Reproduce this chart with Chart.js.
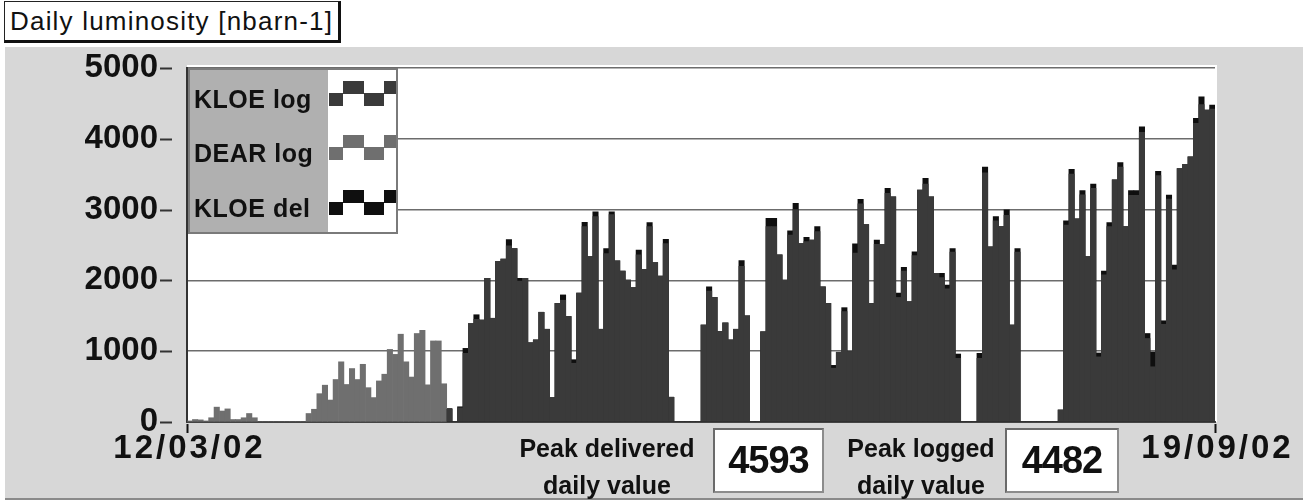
<!DOCTYPE html>
<html>
<head>
<meta charset="utf-8">
<script src="https://cdn.jsdelivr.net/npm/chart.js@4.4.1/dist/chart.umd.min.js"></script>
<style>
  html, body { margin: 0; padding: 0; background: #fff; }
  #wrap { position: relative; width: 1303px; height: 501px; overflow: hidden;
          font-family: "Liberation Sans", Arial, Helvetica, sans-serif; color: #111; }
  #panel { position: absolute; left: 5px; top: 47px; width: 1298px; height: 451px;
           background: #d7d7d7; border-bottom: 2px solid #8a8a8a; }
  #title { position: absolute; left: 4px; top: 1px; width: 337px; height: 42px; box-sizing: border-box;
           background: #fff; border: 1px solid #222; border-right: 3px solid #111; border-bottom: 3px solid #111;
           font-size: 26px; letter-spacing: 1.2px; line-height: 38px; padding-left: 5px; white-space: nowrap; }
  #chart { position: absolute; left: 0; top: 0; }
  .lbl { position: absolute; width: 230px; text-align: center; font-size: 25px; font-weight: bold;
         line-height: 37px; white-space: nowrap; }
  .val { position: absolute; box-sizing: border-box; background: #fff; border: 2px solid #8c8c8c;
         border-top-color: #6a6a6a; border-left-color: #6a6a6a;
         font-weight: bold; font-size: 38px; letter-spacing: -1px; line-height: 60px; text-align: center; }
</style>
</head>
<body>
<div id="wrap">
  <div id="panel"></div>
  <div id="title">Daily luminosity [nbarn-1]</div>
  <canvas id="chart" width="1303" height="501"></canvas>
  <div class="lbl" style="left:492px; top:430px;">Peak delivered<br>daily value</div>
  <div class="val" id="peakDel" style="left:713px; top:428px; width:111px; height:65px;"></div>
  <div class="lbl" style="left:806px; top:430px;">Peak logged<br>daily value</div>
  <div class="val" id="peakLog" style="left:1005px; top:428px; width:114px; height:65px;"></div>
</div>
<script>
// Daily integrated luminosity, one bar per day (nbarn^-1)
const dayCount = 190;
const xTickLabels = ['12/03/02', '19/09/02'];
const yTicks = [0, 1000, 2000, 3000, 4000, 5000];

const seriesNames = ['KLOE log', 'DEAR log', 'KLOE del'];
const seriesColors = ['#3a3a3a', '#6f6f6f', '#0f0f0f'];

// DEAR logged luminosity, days 0..47
const dearFirstDay = 0;
const dearLog = [
  15, 35, 30, 15, 60, 210, 155, 185, 35, 35,
  60, 120, 60, 0, 0, 0, 0, 0, 0, 0,
  0, 0, 120, 180, 400, 520, 310, 600, 850, 530,
  755, 600, 815, 485, 345, 580, 675, 1025, 955, 1240,
  850, 635, 1250, 1295, 525, 1145, 1145, 540
];

// KLOE logged luminosity, days 48..189
const kloeFirstDay = 48;
const kloeLog = [
  180, 0, 200, 970, 1390, 1450, 1440, 2030, 1465, 2270,
  2300, 2490, 2450, 1990, 2030, 1120, 1160, 1550, 1310, 345,
  1675, 1720, 1490, 830, 1820, 2760, 2335, 2900, 1310, 2380,
  2930, 2275, 2130, 2005, 1900, 2360, 2155, 2760, 2250, 2060,
  2520, 350, 0, 0, 0, 0, 0, 1370, 1850, 1760,
  1280, 1400, 1160, 1310, 2200, 1500, 0, 0, 1275, 2760,
  2760, 2360, 2005, 2640, 3000, 2520, 2550, 2570, 2690, 1910,
  1675, 760, 985, 1560, 995, 2385, 3080, 2790, 1675, 2510,
  2510, 3230, 3180, 1760, 2130, 1700, 2350, 3275, 3360, 3180,
  2100, 2040, 1880, 2400, 900, 0, 0, 0, 900, 3520,
  2475, 2840, 2760, 2920, 1370, 2400, 0, 0, 0, 0,
  0, 0, 0, 170, 2780, 3500, 2870, 3210, 2335, 3300,
  920, 2080, 2760, 3420, 3600, 2760, 3200, 3200, 4090, 1180,
  780, 3480, 1380, 3150, 2150, 3580, 3640, 3745, 4220, 4482,
  4405, 4420
];

// KLOE delivered luminosity, days 48..189
const kloeDel = [
  190, 0, 215, 1040, 1390, 1515, 1440, 2030, 1465, 2270,
  2300, 2575, 2450, 2030, 2030, 1120, 1160, 1550, 1310, 345,
  1675, 1795, 1490, 880, 1820, 2820, 2335, 2970, 1310, 2450,
  2970, 2275, 2130, 2005, 1900, 2430, 2155, 2815, 2250, 2060,
  2580, 350, 0, 0, 0, 0, 0, 1370, 1910, 1760,
  1280, 1400, 1160, 1310, 2280, 1500, 0, 0, 1275, 2875,
  2875, 2360, 2005, 2700, 3090, 2520, 2610, 2570, 2760, 1910,
  1675, 800, 985, 1615, 995, 2515, 3145, 2790, 1675, 2570,
  2510, 3300, 3180, 1820, 2185, 1700, 2405, 3275, 3440, 3180,
  2100, 2100, 1935, 2450, 960, 0, 0, 0, 970, 3600,
  2475, 2900, 2760, 2995, 1370, 2450, 0, 0, 0, 0,
  0, 0, 0, 170, 2840, 3570, 2870, 3270, 2335, 3360,
  975, 2130, 2815, 3420, 3665, 2760, 3270, 3270, 4170, 1250,
  990, 3540, 1430, 3205, 2215, 3580, 3640, 3745, 4290, 4593,
  4405, 4475
];

document.getElementById('peakDel').textContent = Math.max(...kloeDel);
document.getElementById('peakLog').textContent = Math.max(...kloeLog);

const FONT = '"Liberation Sans", Arial, Helvetica, sans-serif';
const toPoints = (vals, first) => vals.map((v, i) => ({ x: first + i, y: v }));

// white plotting field
const plotField = {
  id: 'plotField',
  beforeDraw(chart) {
    const { ctx, chartArea: a } = chart;
    ctx.save();
    ctx.fillStyle = '#ffffff';
    ctx.fillRect(a.left, a.top - 3, a.right - a.left + 2, a.bottom - a.top + 3);
    ctx.restore();
  }
};

// short dashes beside each value label on the left axis
const valueDashes = {
  id: 'valueDashes',
  afterDraw(chart) {
    const { ctx, scales: { y } } = chart;
    ctx.save();
    ctx.strokeStyle = '#333';
    ctx.lineWidth = 2;
    y.ticks.forEach(t => {
      const py = Math.round(y.getPixelForValue(t.value)) + 0.5;
      ctx.beginPath();
      ctx.moveTo(y.right - 27, py);
      ctx.lineTo(y.right - 15, py);
      ctx.stroke();
    });
    ctx.restore();
  }
};

// end-of-range date marks and labels under the time axis
const dateMarks = {
  id: 'dateMarks',
  afterDraw(chart) {
    const { ctx, scales: { x } } = chart;
    ctx.save();
    ctx.strokeStyle = '#111';
    ctx.lineWidth = 2;
    ctx.fillStyle = '#111';
    ctx.font = 'bold 33px ' + FONT;
    ctx.letterSpacing = '3px';
    ctx.textAlign = 'center';
    ctx.textBaseline = 'alphabetic';
    x.ticks.forEach((t, i) => {
      const px = Math.round(x.getPixelForValue(t.value)) + 0.5;
      ctx.beginPath();
      ctx.moveTo(px, x.top + 2);
      ctx.lineTo(px, x.top + 11);
      ctx.stroke();
      ctx.fillText(xTickLabels[i], px + 2, x.top + 36);
    });
    ctx.restore();
  }
};

// legend panel with square-wave swatches
const waveLegend = {
  id: 'waveLegend',
  afterDraw(chart) {
    const { ctx, chartArea: a } = chart;
    const x0 = a.left + 2, y0 = a.top + 1;
    const labelW = 138, swatchW = 68, h = 164;
    ctx.save();
    ctx.fillStyle = '#b0b0b0';
    ctx.fillRect(x0 + 1, y0 + 1, labelW, h - 2);
    ctx.fillStyle = '#ffffff';
    ctx.fillRect(x0 + 1 + labelW, y0 + 1, swatchW, h - 2);
    ctx.strokeStyle = '#7a7a7a';
    ctx.lineWidth = 2;
    ctx.strokeRect(x0, y0, labelW + swatchW + 2, h);
    ctx.font = 'bold 25px ' + FONT;
    ctx.letterSpacing = '0.5px';
    ctx.textBaseline = 'alphabetic';
    ctx.textAlign = 'left';
    const baselines = [39, 93, 148];
    chart.data.datasets.forEach((ds, i) => {
      const base = y0 + baselines[i];
      ctx.fillStyle = '#111';
      ctx.fillText(ds.label, x0 + 5, base);
      const sx = x0 + 1 + labelW;
      const cy = base - 15;
      const segs = [[1, 15, 0], [15, 36, 1], [36, 56, 0], [56, 68, 1]];
      ctx.fillStyle = ds.backgroundColor;
      segs.forEach(([s, e, hi]) => {
        ctx.fillRect(sx + s, hi ? cy - 12 : cy, e - s, 13);
      });
    });
    ctx.restore();
  }
};

new Chart(document.getElementById('chart'), {
  type: 'bar',
  data: {
    datasets: [
      { label: seriesNames[0], data: toPoints(kloeLog, kloeFirstDay), backgroundColor: seriesColors[0] },
      { label: seriesNames[1], data: toPoints(dearLog, dearFirstDay), backgroundColor: seriesColors[1] },
      { label: seriesNames[2], data: toPoints(kloeDel, kloeFirstDay), backgroundColor: seriesColors[2] }
    ]
  },
  options: {
    responsive: false,
    animation: false,
    layout: { padding: { left: 0, right: 88, top: 68, bottom: 0 } },
    datasets: { bar: { grouped: false, barPercentage: 1, categoryPercentage: 1, borderWidth: 0 } },
    plugins: { legend: { display: false }, tooltip: { enabled: false }, title: { display: false } },
    scales: {
      x: {
        type: 'linear',
        min: -0.5,
        max: dayCount - 0.5,
        offset: false,
        afterBuildTicks: s => { s.ticks = [{ value: -0.5 }, { value: dayCount - 0.5 }]; },
        afterFit: s => { s.height = 79; },
        grid: { display: false },
        border: { display: true, color: '#444', width: 2 },
        ticks: { display: false }
      },
      y: {
        min: 0,
        max: 5000,
        afterBuildTicks: s => { s.ticks = yTicks.map(v => ({ value: v })); },
        afterFit: s => { s.width = 187; },
        grid: { color: '#6c6c6c', lineWidth: 1.5, drawTicks: false },
        border: { display: true, color: '#333', width: 2 },
        ticks: { padding: 29, color: '#111', font: { family: FONT, size: 33, weight: 'bold' },
                 callback: v => String(v) }
      }
    }
  },
  plugins: [plotField, valueDashes, dateMarks, waveLegend]
});
</script>
</body>
</html>
